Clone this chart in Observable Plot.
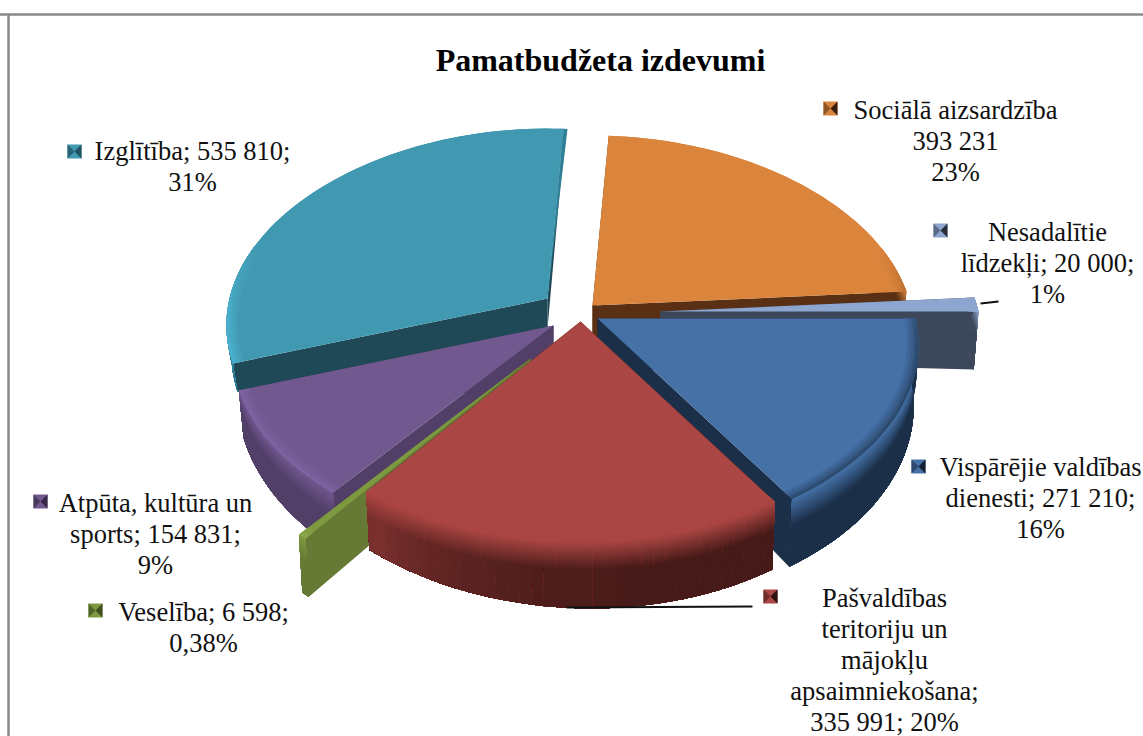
<!DOCTYPE html>
<html><head><meta charset="utf-8">
<script src="https://cdn.jsdelivr.net/npm/d3@7"></script>
<script src="https://cdn.jsdelivr.net/npm/@observablehq/plot@0.6"></script>
<style>html,body{margin:0;padding:0;background:#fff;overflow:hidden}svg{display:block}</style>
</head><body><div id="chart"></div>
<script>
// Data
const categories = ["Sociālā aizsardzība","Nesadalītie līdzekļi","Vispārējie valdības dienesti","Pašvaldības teritoriju un mājokļu apsaimniekošana","Veselība","Atpūta, kultūra un sports","Izglītība"];
const values = [393231, 20000, 271210, 335991, 6598, 154831, 535810];
const labelTexts = [
  "Sociālā aizsardzība\n393 231\n23%",
  "Nesadalītie\nlīdzekļi; 20 000;\n1%",
  "Vispārējie valdības\ndienesti; 271 210;\n16%",
  "Pašvaldības\nteritoriju un\nmājokļu\napsaimniekošana;\n335 991; 20%",
  "Veselība; 6 598;\n0,38%",
  "Atpūta, kultūra un\nsports; 154 831;\n9%",
  "Izglītība; 535 810;\n31%"
];
const chartTitle = "Pamatbudžeta izdevumi";

// Styles, per slice
const faceColors = ["#db843c","#8da6d0","#4571a7","#aa4643","#7d9a40","#71588f","#4199b1"];
const rimColors  = ["#a9622a","#8da6d0","#2c4a6e","#aa4643","#8aa84c","#7d63a0","#4ab0cd"];
const wallStart  = ["#5a3015","#3c4759","#1b2f48","#451a18","#667a35","#523f68","#2f7f96"];
const wallEnd    = ["#5a3015","#3c4759","#1b2f48","#7a302e","#667a35","#523f68","#2f7f96"];
const cutColors  = ["#5a3015","#3c4759","#1b2f48","#451a18","#667a35","#523f68","#1f4957"];

// Layout
const center = [575, 306];
const explodeX = [17, 85, 22, 5, -45, -22, -28];
const explodeY = [-1, 5, 12, 15, 52, 19, -8];
const radiusScale = [1, 1, 1, 1, 1.05, 1, 1];
const depthScale = [1, 1, 1, 1, 1, 1, 0.6];
const edgeSliver = [0, 0, 0, 0, 0, 0, 0.014];
const drawOrder = [6, 0, 1, 5, 2, 4, 3];
const rotationDeg = 3.4;
const labelX = [955, 1047, 1040, 884, 203, 155, 192];
const labelY = [96, 218, 453, 584, 598, 489, 137];
const keyX = [830, 940, 918, 770, 95, 40, 74];
const keyY = [108, 230, 466, 596, 610, 501, 151];
const keySize = 7;

// Projection of the tilted disc (unit disc u,v + height z)
const persp = 0.13, ryBase = 192;
function rx(v) { return 318 - 45 * v; }
function depth(u, v) { return 50 - 16 * v + 8 * u; }
function project(i, u0, v0, z) {
  const u = u0 * radiusScale[i], v = v0 * radiusScale[i];
  const s = 1 / (1 + persp * v);
  const dx = u * rx(v0) * (1 - 0.015 * z);
  return [center[0] + explodeX[i] + dx, center[1] + explodeY[i] - v * ryBase * s + z * depth(u, v) * depthScale[i]];
}

const arcs = d3.pie().value(d => d).sort(null)
  .startAngle(rotationDeg * Math.PI / 180)
  .endAngle(rotationDeg * Math.PI / 180 + 2 * Math.PI)(values);

const polys = [];
function addPoly(color, pts) {
  const id = polys.length ? polys[polys.length - 1].id + 1 : 0;
  for (const [x, y] of pts) polys.push({id, color, x, y});
}
const mix = (a, b, t) => d3.interpolateRgb(a, b)(Math.max(0, Math.min(1, t)));

function drawSlice(i) {
  const a0 = arcs[i].startAngle, a1 = arcs[i].endAngle;
  const uv = (a, r = 1) => [r * Math.sin(a), r * Math.cos(a)];
  const nA = Math.max(3, Math.ceil((a1 - a0) / (Math.PI / 90)));
  const angle = k => a0 + (a1 - a0) * k / nA;
  // Cut faces
  for (const a of [a0, a1]) {
    const [u, v] = uv(a);
    addPoly(cutColors[i], [project(i,0,0,0), project(i,u,v,0), project(i,u,v,1), project(i,0,0,1)]);
  }
  // Thin lit edge beyond the slice's end
  if (edgeSliver[i] > 0) {
    const [u1, v1] = uv(a1), [u2, v2] = uv(a1 + edgeSliver[i]);
    addPoly(wallStart[i], [project(i,0,0,0), project(i,u1,v1,0), project(i,u2,v2,0)]);
  }
  // Outer wall: each strip reaches to the wall's bottom and far end, later ones overlay, so no seams
  const nZ = 24, bevel = 0.42;
  const nC = wallStart[i] === wallEnd[i] ? 1 : 32;
  for (let c = 0; c < nC; c++) {
    const kStart = Math.floor(nA * c / nC);
    const wall = mix(wallStart[i], wallEnd[i], ((c + .5) / nC) ** 3);
    for (let j = 0; j <= nZ; j++) {
      const z = j / nZ * bevel;
      const color = mix(faceColors[i], wall, (j + .5) / nZ);
      const top = d3.range(kStart, nA + 1).map(k => { const [u, v] = uv(angle(k)); return project(i, u, v, z); });
      const bot = d3.range(nA, kStart - 1, -1).map(k => { const [u, v] = uv(angle(k)); return project(i, u, v, 1); });
      addPoly(color, [...top, ...bot]);
    }
  }
  // Top face
  const rimAt = r => d3.range(nA + 1).map(k => { const [u, v] = uv(angle(k), r); return project(i, u, v, 0); });
  addPoly(faceColors[i], [project(i,0,0,0), ...rimAt(1)]);
  // Rim shading on the top face, stronger towards the viewer
  const rings = [.965, .975, .985, .992];
  rings.forEach((r, q) => {
    const t = (q + 1) / rings.length;
    for (let k = 0; k < nA; k++) {
      const [u, v] = uv(angle(k + .5));
      const w = Math.max(0, Math.min(1, (0.3 - v) / 0.4));
      if (w <= 0) continue;
      addPoly(mix(faceColors[i], rimColors[i], t * w), [
        ...[angle(k), angle(k + 1)].map(a => { const [p, o] = uv(a, r); return project(i, p, o, 0); }),
        ...[angle(k + 1), angle(k)].map(a => { const [p, o] = uv(a, 1); return project(i, p, o, 0); })
      ]);
    }
  });
}
drawOrder.forEach(drawSlice);

// Legend keys: four shaded triangles over a square
categories.forEach((_, i) => {
  const x = keyX[i], y = keyY[i], s = keySize;
  const c = [x, y];
  addPoly(faceColors[i], [[x-s,y-s],[x+s,y-s],[x+s,y+s],[x-s,y+s]]);
  addPoly(mix(faceColors[i], "#000", .35), [[x-s,y-s],[x-s,y+s],c]);
  addPoly(mix(wallStart[i], "#000", .35), [[x+s,y-s],[x+s,y+s],c]);
});

const leaders = [
  {x1: 566, y1: 607, x2: 752, y2: 606},
  {x1: 980, y1: 303, x2: 998, y2: 301}
];
const frameTop = 14, frameLeft = 8;

const plot = Plot.plot({
  width: 1143, height: 736,
  margin: 0,
  x: {domain: [0, 1143], range: [0, 1143], axis: null},
  y: {domain: [0, 736], range: [0, 736], axis: null},
  color: {type: "identity"},
  style: {background: "#fff"},
  marks: [
    Plot.ruleY([frameTop], {stroke: "#888", strokeWidth: 2.5}),
    Plot.ruleX([frameLeft], {stroke: "#888", strokeWidth: 2.5, y1: frameTop, y2: 736}),
    Plot.line(polys, {x: "x", y: "y", z: "id", fill: "color", stroke: "none", curve: "linear-closed"}),
    Plot.link(leaders, {x1: "x1", y1: "y1", x2: "x2", y2: "y2", stroke: "#111", strokeWidth: 2}),
    Plot.text(labelTexts, {
      x: (d, i) => labelX[i], y: (d, i) => labelY[i], text: d => d,
      lineAnchor: "top", textAnchor: "middle", fontFamily: "Liberation Serif",
      fontSize: 26.5, lineHeight: 1.17, fill: "#111"
    }),
    Plot.text([chartTitle], {x: 600, y: 60, text: d => d, textAnchor: "middle", fontFamily: "Liberation Serif",
      fontWeight: "bold", fontSize: 32, fill: "#000"})
  ]
});
document.getElementById("chart").append(plot);
</script></body></html>
